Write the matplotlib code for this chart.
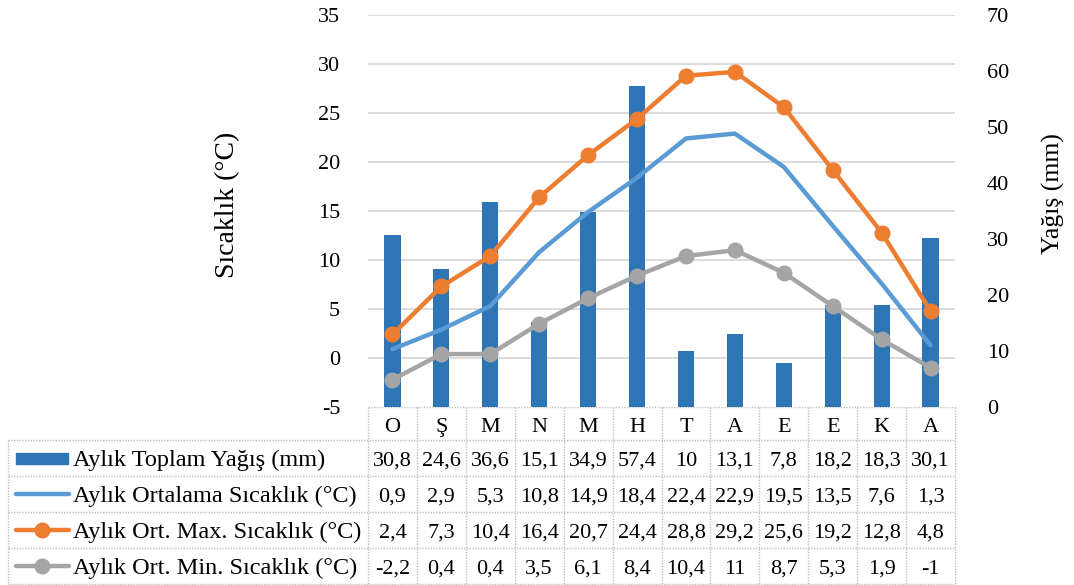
import matplotlib
matplotlib.use('Agg')
import matplotlib.pyplot as plt
from matplotlib.patches import Rectangle

plt.rcParams['font.family'] = ['Liberation Serif', 'DejaVu Serif']
plt.rcParams['axes.unicode_minus'] = False

# data
months = ['O', 'Ş', 'M', 'N', 'M', 'H', 'T', 'A', 'E', 'E', 'K', 'A']
precip = [30.8, 24.6, 36.6, 15.1, 34.9, 57.4, 10, 13.1, 7.8, 18.2, 18.3, 30.1]
t_mean = [0.9, 2.9, 5.3, 10.8, 14.9, 18.4, 22.4, 22.9, 19.5, 13.5, 7.6, 1.3]
t_max = [2.4, 7.3, 10.4, 16.4, 20.7, 24.4, 28.8, 29.2, 25.6, 19.2, 12.8, 4.8]
t_min = [-2.2, 0.4, 0.4, 3.5, 6.1, 8.4, 10.4, 11, 8.7, 5.3, 1.9, -1]
names = ['Aylık Toplam Yağış (mm)', 'Aylık Ortalama Sıcaklık (°C)',
         'Aylık Ort. Max. Sıcaklık (°C)', 'Aylık Ort. Min. Sıcaklık (°C)']

c_bar = '#2E75B6'
c_mean = '#5B9BD5'
c_max = '#ED7D31'
c_min = '#A5A5A5'
fs_num = 16     # ticks, table numbers
fs_lab = 17.5   # table row labels
fs_ttl = 20     # axis titles

W, H = 1074, 585
fig = plt.figure(figsize=(W / 100, H / 100), dpi=100)


def box(x0, y0, x1, y1):
    # pixel box (top-left origin) -> figure fraction
    return [x0 / W, 1 - y1 / H, (x1 - x0) / W, (y1 - y0) / H]


PL, PT, PR, PB = 368, 15, 955, 407
x = list(range(12))

# temperature axis with gridlines (bottom layer)
ax = fig.add_axes(box(PL, PT, PR, PB))
ax.set_xlim(-0.5, 11.5)
ax.set_ylim(-5, 35)
ax.set_yticks(range(-5, 36, 5))
ax.set_xticks([])
for v in range(0, 36, 5):
    ax.axhline(v, color='#D9D9D9', lw=1.3, zorder=0)
for s in ax.spines.values():
    s.set_visible(False)
ax.tick_params(axis='y', length=0, pad=20, labelsize=fs_num)

# precipitation bars (right axis)
axp = ax.twinx()
axp.bar(x, precip, width=0.33, color=c_bar)
axp.set_ylim(0, 70)
axp.set_yticks(range(0, 71, 10))
for s in axp.spines.values():
    s.set_visible(False)
axp.tick_params(axis='y', length=0, pad=23, labelsize=fs_num)

# temperature lines on top
axl = fig.add_axes(box(PL, PT, PR, PB), sharex=ax, sharey=ax)
axl.axis('off')
axl.plot(x, t_mean, color=c_mean, lw=3.2, solid_capstyle='round')
axl.plot(x, t_max, color=c_max, lw=3.2, marker='o', ms=10.5)
axl.plot(x, t_min, color=c_min, lw=3.2, marker='o', ms=10.5)

# data table below the plot, drawn in pixel coordinates
tab = fig.add_axes([0, 0, 1, 1], zorder=-1)
tab.set_xlim(0, W)
tab.set_ylim(H, 0)
tab.axis('off')

tab.text(228, 205, 'Sıcaklık (°C)', rotation=90, ha='center', va='center', fontsize=fs_ttl)
tab.text(1053, 194, 'Yağış (mm)', rotation=90, ha='center', va='center', fontsize=18.5)

cw = (PR - PL) / 12
rows = [407, 440, 476, 512, 548, 584]
grid_kw = dict(color='#BFBFBF', lw=1, linestyle=(0, (1, 1)))
tab.plot([PL, PR], [rows[0], rows[0]], **grid_kw)
for y in rows[1:]:
    tab.plot([8, PR], [y, y], **grid_kw)
tab.plot([8, 8], [rows[1], rows[-1]], **grid_kw)
for i in range(13):
    xx = PL + i * cw
    tab.plot([xx, xx], [rows[0], rows[-1]], **grid_kw)

for i, m in enumerate(months):
    tab.text(PL + (i + 0.5) * cw, rows[0] + 25, m,
             ha='center', va='baseline', fontsize=fs_num)

series = [precip, t_mean, t_max, t_min]
for r, (name, vals) in enumerate(zip(names, series)):
    base = rows[r + 1] + 26
    for i, v in enumerate(vals):
        txt = ('%g' % v).replace('.', ',')
        tab.text(PL + (i + 0.5) * cw, base, txt, ha='center', va='baseline', fontsize=fs_num)
    tab.text(73, base, name, ha='left', va='baseline', fontsize=fs_lab)

# legend keys in the label column
y1 = (rows[1] + rows[2]) / 2
tab.add_patch(Rectangle((16, y1 - 5.5), 52, 11, color=c_bar))
y2 = (rows[2] + rows[3]) / 2
tab.plot([16, 69], [y2, y2], color=c_mean, lw=3.2, solid_capstyle='round')
y3 = (rows[3] + rows[4]) / 2
tab.plot([16, 69], [y3, y3], color=c_max, lw=3.2, solid_capstyle='round')
tab.plot([42], [y3], 'o', color=c_max, ms=10.5)
y4 = (rows[4] + rows[5]) / 2
tab.plot([16, 69], [y4, y4], color=c_min, lw=3.2, solid_capstyle='round')
tab.plot([42], [y4], 'o', color=c_min, ms=10.5)

fig.savefig('out.png', dpi=100)
